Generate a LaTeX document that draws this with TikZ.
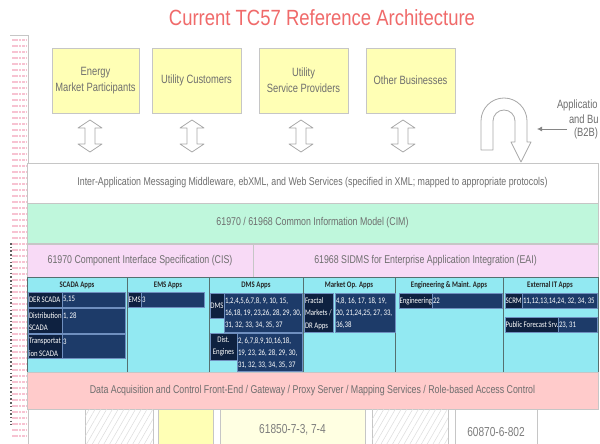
\documentclass[tikz,border=0pt]{standalone}
\usepackage{fontspec}
\setmainfont{Liberation Sans}
\newfontfamily\narrowsans[FakeStretch=0.78]{Liberation Sans}
\newfontfamily\titlesans[FakeStretch=0.84]{Liberation Sans}
\newfontfamily\cellsans[FakeStretch=0.8]{Carlito}
\usetikzlibrary{patterns.meta,arrows.meta}

\definecolor{titlered}{HTML}{F06A6A}
\definecolor{txtgray}{HTML}{6E6E6E}
\definecolor{linegray}{HTML}{C6C6C6}
\definecolor{arrowgray}{HTML}{A8A8A8}
\definecolor{boxyellow}{HTML}{FFFFB5}
\definecolor{paleyellow}{HTML}{FFFFE2}
\definecolor{mint}{HTML}{BFF7DC}
\definecolor{lilac}{HTML}{F8DAF6}
\definecolor{rose}{HTML}{FFCBCB}
\definecolor{appteal}{HTML}{92E9F2}
\definecolor{coldiv}{HTML}{557070}
\definecolor{navyA}{HTML}{0E2140}
\definecolor{navyB}{HTML}{1D3B69}
\definecolor{cellrule}{HTML}{6F8FBF}
\definecolor{stripink}{HTML}{F7C3D2}
\definecolor{hatchgray}{HTML}{DCDCDC}
\definecolor{bottxt}{HTML}{7D7D7D}

% box with its north-west corner at (x1,y1) and south-east corner at (x2,y2)
\newcommand\area[7]{\node[#1, minimum width=(#5-#3)*1pt, minimum height=(#6-#4)*1pt] (#2) at (#3,#4) {#7};}

\tikzset{
  every node/.style={inner sep=0pt, outer sep=0pt},
  cornered/.style={anchor=north west},
  panel/.style={cornered, draw=linegray, line width=0.7pt, align=center, text=txtgray,
    font=\narrowsans\fontsize{11.3}{13}\selectfont},
  partybox/.style={panel, fill=boxyellow, font=\narrowsans\fontsize{12}{16}\selectfont},
  appcol/.style={cornered, draw=coldiv, line width=0.8pt, fill=appteal},
  hdr/.style={font=\cellsans\bfseries\fontsize{8.5}{10}\selectfont, text=black!85},
  labcell/.style={cornered, fill=navyA, draw=cellrule, line width=0.3pt},
  valcell/.style={cornered, fill=navyB, draw=cellrule, line width=0.3pt},
  celltxt/.style={anchor=north west, align=left, text=white,
    font=\cellsans\fontsize{8.5}{12.3}\selectfont},
  botcell/.style={cornered, draw=linegray, line width=0.7pt, fill=white},
  hatched/.style={botcell, postaction={pattern={Lines[angle=60,distance=5pt,line width=0.5pt]}, pattern color=hatchgray}},
  bottext/.style={text=bottxt, font=\narrowsans\fontsize{13}{15}\selectfont},
  hollow/.style={draw=arrowgray, fill=white, line width=0.8pt, line join=round},
  updown/.pic={\draw[hollow] (0,-16) -- (12,-8) -- (5,-8) -- (5,8) -- (12,8) -- (0,16)
      -- (-12,8) -- (-5,8) -- (-5,-8) -- (-12,-8) -- cycle;},
  sidetext/.style={anchor=west, text=txtgray, font=\narrowsans\fontsize{12}{14}\selectfont},
}

\begin{document}
\begin{tikzpicture}[x=1pt,y=-1pt]
\useasboundingbox (0,0) rectangle (600,444);
\clip (0,0) rectangle (600,444);
\fill[white] (0,0) rectangle (600,444);

% side strip
\foreach \yy in {40,46,...,440}
  \draw[stripink, line width=1.3pt, dash pattern=on 2.6pt off 0.8pt] (12,\yy) -- (27,\yy);
\draw[gray!75!black, line width=1.1pt, dash pattern=on 1.5pt off 2.2pt] (11,243) -- (11,425);
\draw[linegray, line width=0.8pt] (10,35) -- (28,35) -- (28,444);

% title
\node[font=\titlesans\fontsize{22}{26}\selectfont, text=titlered] (title) at (322,18)
  {Current TC57 Reference Architecture};

% parties
\area{partybox}{emp}{52}{48}{139}{113}{Energy\\Market Participants}
\area{partybox}{ucu}{152}{48}{241}{113}{Utility Customers}
\area{partybox}{usp}{259}{48}{348}{113}{Utility\\Service Providers}
\area{partybox}{obu}{366}{48}{455}{113}{Other Businesses}

\pic at (90,136) {updown};
\pic at (192,136) {updown};
\pic at (301,136) {updown};
\pic at (403,136) {updown};

% U-turn arrow and its caption
\draw[hollow] (481,150) -- (481,121) arc[start angle=180, end angle=360, radius=23]
  -- (527,142) -- (531,142) -- (521,162) -- (511,142) -- (515,142) -- (515,121)
  arc[start angle=360, end angle=180, radius=11] -- (493,150) -- cycle;
\node[sidetext] (b2ba) at (557,105) {Applicatio};
\node[sidetext] (b2bb) at (569,119) {and Bu};
\node[sidetext] (b2bc) at (574,133) {(B2B)};
\coordinate (b2bfrom) at (567,129);
\coordinate (b2bto) at (537,129);
\draw[arrowgray!80!black, line width=0.8pt, -{Latex[length=5pt,width=5pt]}] (b2bfrom) -- (b2bto);

% layers
\area{panel, fill=white}{msg}{27}{163}{598}{203}{Inter-Application Messaging Middleware, ebXML, and Web Services (specified in XML; mapped to appropriate protocols)}
\area{panel, fill=mint}{cim}{27}{203}{598}{243}{61970 / 61968 Common Information Model (CIM)}
\area{panel, fill=lilac}{cis}{27}{244}{253}{277}{61970 Component Interface Specification (CIS)}
\area{panel, fill=lilac}{eai}{253}{244}{598}{277}{61968 SIDMS for Enterprise Application Integration (EAI)}

% application columns
\area{appcol}{scada}{27}{277}{127}{372}{}
\area{appcol}{ems}{127}{277}{209}{372}{}
\area{appcol}{dms}{209}{277}{303}{372}{}
\area{appcol}{mkt}{303}{277}{395}{372}{}
\area{appcol}{eng}{395}{277}{503}{372}{}
\area{appcol}{ext}{503}{277}{598}{372}{}
\node[hdr] (hscada) at (77,285) {SCADA Apps};
\node[hdr] (hems) at (168,285) {EMS Apps};
\node[hdr] (hdms) at (256,285) {DMS Apps};
\node[hdr] (hmkt) at (349,285) {Market Op. Apps};
\node[hdr] (heng) at (449,285) {Engineering \& Maint. Apps};
\node[hdr] (hext) at (550,285) {External IT Apps};

% SCADA
\area{labcell}{derL}{28}{292}{62}{307}{}
\node[celltxt] at ([shift={(1,4.5)}]derL.north west) {DER SCADA};
\area{valcell}{derV}{62}{292}{125}{307}{}
\node[celltxt] at ([shift={(1,4.5)}]derV.north west) {5,15};
\area{labcell}{dsL}{28}{308}{62}{333}{}
\node[celltxt] at ([shift={(1,4.5)}]dsL.north west) {Distribution\\SCADA};
\area{valcell}{dsV}{62}{308}{125}{333}{}
\node[celltxt] at ([shift={(1,4.5)}]dsV.north west) {1, 28};
\area{labcell}{tsL}{28}{334}{62}{358}{}
\node[celltxt] at ([shift={(1,4.5)}]tsL.north west) {Transportat\\ion SCADA};
\area{valcell}{tsV}{62}{334}{125}{358}{}
\node[celltxt] at ([shift={(1,4.5)}]tsV.north west) {3};

% EMS
\area{labcell}{emsL}{128}{292}{141}{307}{}
\node[celltxt] at ([shift={(0.5,4.5)}]emsL.north west) {EMS};
\area{valcell}{emsV}{141}{292}{204}{307}{}
\node[celltxt] at ([shift={(1,4.5)}]emsV.north west) {3};

% DMS
\area{labcell}{dmsL}{210}{293}{224}{318}{}
\node[celltxt, anchor=center] at (dmsL.center) {DMS};
\area{valcell}{dmsV}{224}{293}{302}{332}{}
\node[celltxt] at ([shift={(1,4.5)}]dmsV.north west) {1,2,4,5,6,7,8, 9, 10, 15,\\16,18, 19, 23,26, 28, 29, 30,\\31, 32, 33, 34, 35, 37};
\area{labcell}{deL}{210}{333}{237}{360}{}
\node[celltxt, anchor=center, align=center] at (deL.center) {Dist.\\Engines};
\area{valcell}{deV}{237}{333}{302}{371}{}
\node[celltxt] at ([shift={(1,4.5)}]deV.north west) {2, 6,7,8,9,10,16,18,\\19, 23, 26, 28, 29, 30,\\31, 32, 33, 34, 35, 37};

% Market operations
\area{labcell}{mkL}{304}{293}{333}{332}{}
\node[celltxt] at ([shift={(1,4.5)}]mkL.north west) {Fractal\\Markets /\\DR Apps};
\area{valcell}{mkV}{335}{293}{395}{332}{}
\node[celltxt] at ([shift={(1,4.5)}]mkV.north west) {4,8, 16, 17, 18, 19,\\20, 21,24,25, 27, 33,\\36,38};

% Engineering
\area{labcell}{engL}{399}{293}{432}{308}{}
\node[celltxt] at ([shift={(0.5,4.5)}]engL.north west) {Engineering};
\area{valcell}{engV}{432}{293}{502}{308}{}
\node[celltxt] at ([shift={(1,4.5)}]engV.north west) {22};

% External IT
\area{labcell}{scrmL}{505}{293}{522}{308}{}
\node[celltxt] at ([shift={(0.5,4.5)}]scrmL.north west) {SCRM};
\area{valcell}{scrmV}{522}{293}{597}{308}{}
\node[celltxt] at ([shift={(1,4.5)}]scrmV.north west) {11,12,13,14,24, 32, 34, 35};
\area{labcell}{pfL}{505}{317}{558}{332}{}
\node[celltxt] at ([shift={(0.5,4.5)}]pfL.north west) {Public Forecast Srv.};
\area{valcell}{pfV}{558}{317}{597}{332}{}
\node[celltxt] at ([shift={(1,4.5)}]pfV.north west) {23, 31};

% front-end layer
\area{panel, fill=rose}{daq}{27}{372}{598}{409}{Data Acquisition and Control Front-End / Gateway / Proxy Server / Mapping Services / Role-based Access Control}

% lower row
\area{hatched}{lw2}{85}{409}{153}{452}{}
\area{botcell, fill=boxyellow}{lw3}{158}{409}{213}{452}{}
\area{botcell, fill=paleyellow}{lw4}{220}{409}{365}{452}{}
\area{hatched}{lw5}{372}{409}{448}{452}{}
\area{botcell}{lw6}{455}{409}{537}{452}{}
\node[bottext] (std1) at (292.5,430) {61850-7-3, 7-4};
\node[bottext] (std2) at (496,432) {60870-6-802};
\end{tikzpicture}
\end{document}
